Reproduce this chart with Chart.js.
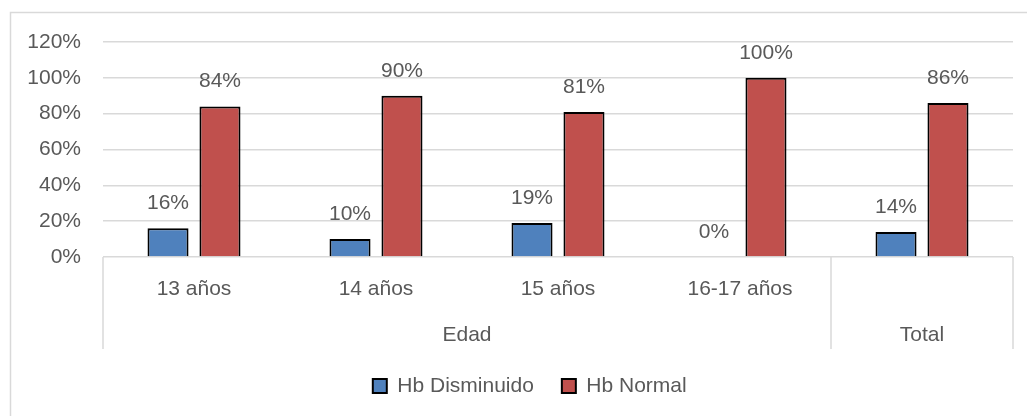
<!DOCTYPE html>
<html lang="es">
<head>
<meta charset="utf-8">
<title>Hemoglobina por edad</title>
<script src="https://cdn.jsdelivr.net/npm/chart.js@4/dist/chart.umd.min.js"></script>
<style>
  html, body { margin: 0; padding: 0; background: #ffffff; overflow: hidden; }
  #wrap { width: 1027px; height: 416px; position: relative; }
</style>
</head>
<body>
<div id="wrap"><canvas id="chart" width="1027" height="416"></canvas></div>
<script>
// Categories (first axis level) and their grouping (second axis level)
const categories = ["13 años", "14 años", "15 años", "16-17 años", ""];
const groupLabels = ["Edad", "Total"];
const groupSizes = [4, 1];

// Percentages per category
const hbDisminuido = [16, 10, 19, 0, 14];
const hbNormal = [84, 90, 81, 100, 86];

// Y axis ticks
const yTickValues = [0, 20, 40, 60, 80, 100, 120];

const FONT = "'Liberation Sans', Arial, sans-serif";
const TEXT = "#595959";
const GRID = "#D9D9D9";

// Light frame around the whole chart
const framePlugin = {
  id: "frame",
  beforeDraw(chart) {
    const ctx = chart.ctx;
    ctx.save();
    ctx.fillStyle = "#ffffff";
    ctx.fillRect(0, 0, chart.width, chart.height);
    ctx.strokeStyle = GRID;
    ctx.lineWidth = 1.5;
    ctx.strokeRect(10.5, 12.5, chart.width + 40, chart.height + 40);
    ctx.restore();
  }
};

// Value labels above each bar
const valueLabels = {
  id: "valueLabels",
  afterDatasetsDraw(chart) {
    const ctx = chart.ctx;
    ctx.save();
    ctx.font = "21px " + FONT;
    ctx.fillStyle = TEXT;
    ctx.textAlign = "center";
    ctx.textBaseline = "middle";
    chart.data.datasets.forEach((ds, di) => {
      const meta = chart.getDatasetMeta(di);
      meta.data.forEach((bar, i) => {
        ctx.fillText(ds.data[i] + "%", bar.x, bar.y - 25);
      });
    });
    ctx.restore();
  }
};

// Second level of the category axis: group names and separators
const groupAxis = {
  id: "groupAxis",
  afterDraw(chart) {
    const x = chart.scales.x;
    const ctx = chart.ctx;
    const step = (x.right - x.left) / categories.length;
    const top = chart.chartArea.bottom;
    const sepBottom = top + 92;
    ctx.save();
    ctx.strokeStyle = GRID;
    ctx.lineWidth = 1.5;
    ctx.font = "21px " + FONT;
    ctx.fillStyle = TEXT;
    ctx.textAlign = "center";
    ctx.textBaseline = "middle";
    let idx = 0;
    const edges = [x.getPixelForValue(0) - step / 2];
    groupLabels.forEach((g, gi) => {
      const start = x.getPixelForValue(idx) - step / 2;
      idx += groupSizes[gi];
      const end = x.getPixelForValue(idx - 1) + step / 2;
      edges.push(end);
      ctx.fillText(g, (start + end) / 2, top + 78);
    });
    edges.forEach(e => {
      ctx.beginPath();
      ctx.moveTo(e, top);
      ctx.lineTo(e, sepBottom);
      ctx.stroke();
    });
    ctx.restore();
  }
};

new Chart(document.getElementById("chart"), {
  type: "bar",
  data: {
    labels: categories,
    datasets: [
      {
        label: "Hb Disminuido",
        data: hbDisminuido,
        backgroundColor: "#4F81BD",
        borderColor: "#000000",
        borderWidth: 2,
        categoryPercentage: 0.571,
        barPercentage: 0.79
      },
      {
        label: "Hb Normal",
        data: hbNormal,
        backgroundColor: "#C0504D",
        borderColor: "#000000",
        borderWidth: 2,
        categoryPercentage: 0.571,
        barPercentage: 0.79
      }
    ]
  },
  options: {
    responsive: false,
    animation: false,
    devicePixelRatio: 1,
    layout: { padding: { top: 42, left: 46.5, right: 14, bottom: 9.5 } },
    scales: {
      x: {
        grid: { display: false, drawTicks: false },
        border: { display: false },
        ticks: {
          color: TEXT,
          font: { family: FONT, size: 21 },
          padding: 20,
          maxRotation: 0,
          autoSkip: false
        },
        afterFit(scale) { scale.height = 90.5; }
      },
      y: {
        min: 0,
        max: 120,
        afterBuildTicks(scale) { scale.ticks = yTickValues.map(v => ({ value: v })); },
        grid: { color: GRID, lineWidth: 1.5, drawTicks: false },
        border: { display: false },
        ticks: {
          color: TEXT,
          font: { family: FONT, size: 21 },
          padding: 22,
          callback: v => v + "%"
        },
        afterFit(scale) {
          scale.width = 56.5;
          // tick labels are wider than the narrow axis box; let them extend left
          scale._computeLabelArea = () => undefined;
        }
      }
    },
    plugins: {
      legend: {
        position: "bottom",
        labels: {
          color: TEXT,
          font: { family: FONT, size: 21 },
          boxWidth: 14,
          boxHeight: 14,
          padding: 28
        }
      },
      tooltip: { enabled: false }
    }
  },
  plugins: [framePlugin, valueLabels, groupAxis]
});
</script>
</body>
</html>
